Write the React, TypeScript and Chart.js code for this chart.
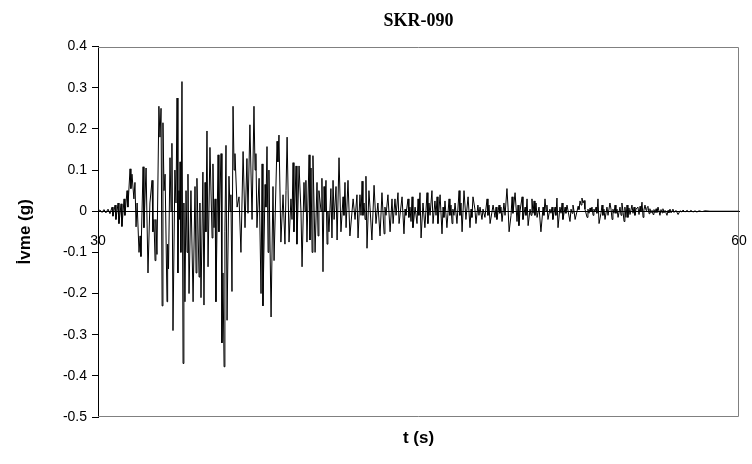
import React, { useEffect, useRef } from "react";
import { Chart, registerables } from "chart.js";

Chart.register(...registerables);

const chartTitle = "SKR-090";
const xAxisTitle = "t (s)";
const yAxisTitle = "İvme (g)";
const xTickValues = [30, 60];
const yMin = -0.5;
const yMax = 0.4;
const yStep = 0.1;

// time (s)
const timeS = [
  30.0, 30.09, 30.19, 30.28, 30.37, 30.47, 30.56, 30.66, 30.7, 30.8,
  30.84, 30.94, 30.98, 31.08, 31.12, 31.22, 31.26, 31.36, 31.4, 31.5,
  31.54, 31.59, 31.68, 31.73, 31.78, 31.83, 31.92, 31.97, 32.01, 32.11,
  32.15, 32.25, 32.34, 32.43, 32.53, 32.57, 32.62, 32.67, 32.71, 32.76,
  32.85, 32.9, 32.95, 33.0, 33.04, 33.09, 33.14, 33.23, 33.26, 33.3,
  33.37, 33.42, 33.46, 33.51, 33.6, 33.65, 33.7, 33.74, 33.79, 33.81,
  33.84, 33.88, 33.93, 33.98, 34.02, 34.07, 34.12, 34.17, 34.21, 34.26,
  34.35, 34.45, 34.54, 34.59, 34.63, 34.73, 34.77, 34.82, 34.91, 34.96,
  35.01, 35.05, 35.1, 35.15, 35.24, 35.34, 35.38, 35.43, 35.48, 35.52,
  35.62, 35.66, 35.76, 35.8, 35.85, 35.9, 35.94, 35.99, 36.04, 36.13,
  36.18, 36.22, 36.27, 36.32, 36.37, 36.41, 36.51, 36.6, 36.69, 36.79,
  36.88, 36.97, 37.02, 37.11, 37.21, 37.3, 37.35, 37.39, 37.44, 37.54,
  37.63, 37.68, 37.72, 37.82, 37.86, 37.91, 37.96, 38.0, 38.1, 38.19,
  38.24, 38.38, 38.42, 38.47, 38.56, 38.66, 38.75, 38.8, 38.85, 38.94,
  39.03, 39.08, 39.13, 39.17, 39.27, 39.31, 39.41, 39.5, 39.55, 39.64,
  39.69, 39.73, 39.78, 39.88, 39.92, 39.97, 40.02, 40.06, 40.16, 40.25,
  40.3, 40.34, 40.44, 40.48, 40.53, 40.58, 40.62, 40.67, 40.72, 40.76,
  40.81, 40.9, 40.95, 41.0, 41.05, 41.14, 41.19, 41.28, 41.37, 41.47,
  41.51, 41.56, 41.61, 41.7, 41.79, 41.94, 42.03, 42.12, 42.17, 42.26,
  42.31, 42.36, 42.4, 42.45, 42.5, 42.54, 42.59, 42.68, 42.73, 42.82,
  42.92, 43.01, 43.1, 43.2, 43.29, 43.39, 43.43, 43.48, 43.57, 43.67,
  43.76, 43.81, 43.9, 43.95, 44.04, 44.09, 44.23, 44.32, 44.37, 44.41,
  44.51, 44.55, 44.6, 44.65, 44.7, 44.74, 44.84, 44.93, 44.98, 45.02,
  45.07, 45.12, 45.21, 45.3, 45.4, 45.44, 45.49, 45.54, 45.63, 45.68,
  45.77, 45.82, 45.87, 45.91, 46.01, 46.1, 46.15, 46.19, 46.24, 46.33,
  46.43, 46.47, 46.52, 46.57, 46.61, 46.66, 46.71, 46.8, 46.9, 46.94,
  46.99, 47.04, 47.13, 47.22, 47.32, 47.41, 47.46, 47.5, 47.55, 47.64,
  47.69, 47.78, 47.83, 47.88, 47.97, 48.02, 48.11, 48.21, 48.25, 48.3,
  48.35, 48.49, 48.58, 48.63, 48.67, 48.77, 48.81, 48.86, 48.91, 49.0,
  49.05, 49.14, 49.19, 49.24, 49.33, 49.38, 49.42, 49.52, 49.61, 49.66,
  49.7, 49.75, 49.85, 49.89, 49.99, 50.03, 50.08, 50.13, 50.22, 50.27,
  50.31, 50.36, 50.41, 50.45, 50.5, 50.55, 50.64, 50.73, 50.83, 50.87,
  50.92, 50.97, 51.01, 51.06, 51.15, 51.2, 51.25, 51.29, 51.39, 51.43,
  51.48, 51.53, 51.62, 51.67, 51.72, 51.76, 51.86, 51.9, 51.95, 52.09,
  52.14, 52.19, 52.23, 52.28, 52.33, 52.42, 52.47, 52.51, 52.56, 52.61,
  52.65, 52.7, 52.75, 52.79, 52.89, 52.93, 52.98, 53.03, 53.07, 53.12,
  53.17, 53.21, 53.26, 53.31, 53.35, 53.4, 53.45, 53.54, 53.59, 53.63,
  53.68, 53.73, 53.82, 53.87, 53.96, 54.01, 54.06, 54.1, 54.15, 54.2,
  54.24, 54.29, 54.34, 54.43, 54.48, 54.52, 54.57, 54.62, 54.66, 54.71,
  54.76, 54.8, 54.85, 54.9, 54.99, 55.04, 55.09, 55.13, 55.18, 55.27,
  55.32, 55.37, 55.41, 55.46, 55.51, 55.55, 55.6, 55.65, 55.69, 55.74,
  55.79, 55.83, 55.88, 55.93, 55.98, 56.02, 56.07, 56.12, 56.16, 56.21,
  56.3, 56.35, 56.4, 56.44, 56.49, 56.54, 56.63, 56.68, 56.72, 56.77,
  56.82, 56.91, 56.96, 57.05, 57.15, 57.24, 57.33, 57.38, 57.47, 57.57,
  57.66, 57.75, 57.85, 57.94, 58.03, 58.13, 58.27, 58.41, 58.64, 60.0,
];

// acceleration (g)
const accelG = [
  0, 0.003, -0.003, 0.004, -0.004, 0.005, -0.006, 0.01, -0.012, 0.015,
  -0.02, 0.02, -0.03, 0.018, -0.037, 0.03, -0.01, 0.05, 0.01, 0.103,
  0.055, 0.09, 0.03, 0.07, -0.038, 0.02, -0.1, -0.06, -0.11, 0.108,
  -0.04, 0.105, -0.15, 0.02, 0.075, -0.05, -0.02, -0.12, -0.02, -0.105,
  0.255, 0.18, 0.25, -0.23, 0.215, 0.05, 0.09, -0.22, -0.08, -0.14,
  0.13, 0.0, 0.165, -0.29, 0.1, 0.02, 0.275, -0.15, 0.05, -0.02,
  0.12, -0.1, 0.315, -0.37, 0.02, -0.22, 0.05, -0.1, 0.09, -0.2,
  0.05, -0.22, 0.06, -0.15, 0.08, -0.16, 0.02, -0.21, 0.095, -0.228,
  0.07, -0.05, 0.195, -0.135, 0.155, -0.065, 0.115, -0.04, 0.03, -0.22,
  0.137, -0.05, 0.14, -0.32, -0.15, -0.378, -0.05, 0.16, -0.265, 0.085,
  0.0, 0.04, -0.195, 0.255, 0.1, 0.14, 0.01, 0.035, -0.1, 0.145,
  -0.04, 0.128, -0.005, 0.21, -0.02, 0.255, 0.1, 0.14, -0.04, 0.08,
  -0.2, 0.115, -0.23, 0.065, 0.01, 0.157, -0.1, 0.1, -0.257, 0.06,
  -0.12, 0.17, 0.12, 0.185, -0.075, 0.04, -0.08, 0.05, 0.18, -0.075,
  0.03, -0.02, 0.118, -0.05, 0.11, -0.08, 0.11, 0.0, -0.135, 0.07,
  0.0, 0.075, -0.075, 0.137, -0.07, 0.105, -0.1, 0.135, -0.1, 0.07,
  -0.06, 0.05, 0.0, 0.08, -0.147, 0.06, 0.0, 0.075, -0.08, 0.0,
  -0.05, 0.055, -0.065, 0.075, -0.02, 0.06, -0.07, 0.13, -0.05, 0.035,
  -0.01, 0.07, -0.04, 0.075, -0.06, 0.03, -0.02, 0.04, -0.065, 0.04,
  -0.01, 0.073, -0.01, 0.02, -0.02, 0.085, -0.09, 0.05, 0.01, -0.07,
  0.063, -0.03, 0.02, -0.06, 0.045, -0.055, 0.01, -0.01, 0.04, -0.05,
  0.03, -0.03, 0.03, -0.01, 0.045, -0.03, 0.035, -0.055, 0.005, -0.01,
  0.03, -0.015, 0.01, -0.025, 0.035, -0.04, 0.01, -0.03, 0.03, -0.01,
  0.045, -0.065, 0.02, -0.04, 0.045, -0.03, 0.02, -0.01, 0.05, -0.03,
  0.025, -0.01, 0.035, -0.03, 0.04, -0.055, 0.01, -0.015, 0.025, -0.04,
  0.03, -0.01, 0.015, -0.03, 0.005, -0.01, 0.02, -0.03, 0.05, -0.01,
  0.02, -0.05, 0.05, -0.02, 0.035, -0.04, 0.005, -0.015, 0.035, 0.005,
  -0.03, 0.015, -0.01, 0.01, -0.02, 0.005, -0.015, 0.03, -0.01, 0.015,
  -0.03, 0.015, -0.015, 0.01, -0.02, 0.015, -0.005, 0.01, -0.025, 0.02,
  -0.01, 0.055, 0.01, -0.05, -0.01, 0.035, -0.005, 0.045, -0.025, 0.015,
  -0.035, 0.0, 0.035, -0.02, 0.01, -0.01, 0.03, -0.035, 0.005, -0.01,
  0.03, -0.005, 0.025, -0.01, 0.02, -0.015, 0.01, -0.05, 0.01, -0.01,
  0.03, 0.0, 0.015, -0.02, 0.005, -0.005, 0.01, -0.02, 0.01, -0.01,
  0.032, -0.04, 0.01, -0.005, 0.02, -0.02, 0.01, -0.005, 0.015, -0.025,
  0.005, -0.005, 0.015, 0.0, -0.02, 0.0, 0.012, 0.004, 0.025, 0.015,
  0.032, 0.02, 0.026, 0.005, -0.015, 0.005, -0.005, 0.008, 0.0, 0.01,
  -0.01, 0.005, 0.0, 0.01, -0.005, 0.03, -0.03, -0.005, 0.015, -0.01,
  0.005, -0.02, 0.01, -0.01, 0.02, 0.005, -0.02, 0.005, -0.005, 0.015,
  -0.005, 0.005, -0.015, 0.01, -0.01, 0.02, 0.0, -0.025, 0.01, -0.015,
  0.015, -0.015, 0.008, -0.008, 0.015, -0.005, 0.01, -0.01, 0.005, 0.01,
  -0.008, 0.012, 0.0, 0.022, -0.015, 0.003, 0.015, 0.002, 0.008, 0.012,
  -0.006, 0.006, -0.004, 0.002, -0.008, 0.004, -0.004, 0.006, -0.003, 0.01,
  -0.01, 0.004, -0.004, 0.006, -0.004, 0.002, -0.01, 0.002, -0.004, 0.005,
  -0.004, 0.005, -0.003, 0.002, -0.008, 0.001, -0.002, 0.003, -0.002, 0.002,
  -0.002, 0.002, -0.002, 0.001, -0.002, 0.001, -0.001, 0.001, 0.0, 0.0,
];

const axisFont = { family: "'Liberation Sans', Arial, sans-serif", size: 14 };
const axisTitleFont = { family: "'Liberation Sans', Arial, sans-serif", size: 17, weight: "bold" as const };

export default function App() {
  const canvasRef = useRef<HTMLCanvasElement>(null);

  useEffect(() => {
    if (!canvasRef.current) return;
    const framePlugin = {
      id: "plotFrame",
      beforeDatasetsDraw(chart: any) {
        const { ctx, chartArea: a } = chart;
        ctx.save();
        ctx.strokeStyle = "#808080";
        ctx.lineWidth = 1;
        ctx.beginPath();
        ctx.moveTo(a.left, Math.round(a.top) + 0.5);
        ctx.lineTo(Math.round(a.right) - 0.5, Math.round(a.top) + 0.5);
        ctx.lineTo(Math.round(a.right) - 0.5, Math.round(a.bottom) - 0.5);
        ctx.lineTo(a.left, Math.round(a.bottom) - 0.5);
        ctx.stroke();
        ctx.restore();
      },
    };

    const points = timeS.map((t, i) => ({ x: t, y: accelG[i] }));

    const chart = new Chart(canvasRef.current, {
      type: "line",
      data: {
        datasets: [
          {
            data: points,
            xAxisID: "x",
            yAxisID: "y",
            borderColor: "#000000",
            borderWidth: 1,
            pointRadius: 0,
            tension: 0,
            fill: false,
          },
        ],
      },
      options: {
        responsive: false,
        maintainAspectRatio: false,
        animation: false,
        layout: { padding: { left: 0, right: 13, top: 0, bottom: 0 } },
        plugins: {
          legend: { display: false },
          tooltip: { enabled: false },
          title: {
            display: true,
            text: chartTitle,
            fullSize: false,
            color: "#000",
            font: { family: "'Liberation Serif', 'Times New Roman', serif", size: 18, weight: "bold" },
            padding: { top: 11, bottom: 14 },
          },
        },
        scales: {
          x: {
            type: "linear",
            position: { y: 0 } as any,
            min: 30,
            max: 60,
            afterBuildTicks: (scale: any) => {
              scale.ticks = xTickValues.map((v) => ({ value: v }));
            },
            afterFit: (scale: any) => {
              scale.paddingLeft = 0;
              scale.paddingRight = 0;
            },
            grid: { display: false, drawTicks: false, tickLength: 0 },
            border: { display: true, color: "#000", width: 1 },
            ticks: {
              color: "#000",
              font: axisFont,
              padding: 22,
              maxRotation: 0,
              autoSkip: false,
            },
          },
          x2: {
            type: "linear",
            position: "bottom",
            min: 30,
            max: 60,
            grid: { display: false },
            border: { display: false },
            ticks: { display: false },
            title: {
              display: true,
              text: xAxisTitle,
              color: "#000",
              font: axisTitleFont,
              padding: { top: 0, bottom: 15 },
            },
            afterFit: (scale: any) => {
              scale.height = 47;
            },
          },
          y: {
            type: "linear",
            min: yMin,
            max: yMax,
            ticks: {
              stepSize: yStep,
              color: "#000",
              font: axisFont,
              padding: 5,
              callback: (v: any) => {
                const r = Math.round(Number(v) * 10) / 10;
                return r === 0 ? "0" : String(r);
              },
            },
            grid: {
              drawOnChartArea: false,
              drawTicks: true,
              tickLength: 6,
              color: "#000",
            },
            border: { display: true, color: "#000", width: 1 },
            title: {
              display: true,
              text: yAxisTitle,
              color: "#000",
              font: axisTitleFont,
              padding: { top: 15, bottom: 0 },
            },
            afterFit: (scale: any) => {
              scale.width = 98;
            },
          },
        },
      },
      plugins: [framePlugin],
    });

    return () => chart.destroy();
  }, []);

  return (
    <div style={{ position: "absolute", left: 0, top: 0, width: 752, height: 464 }}>
      <canvas ref={canvasRef} width={752} height={464} style={{ display: "block" }} />
    </div>
  );
}
